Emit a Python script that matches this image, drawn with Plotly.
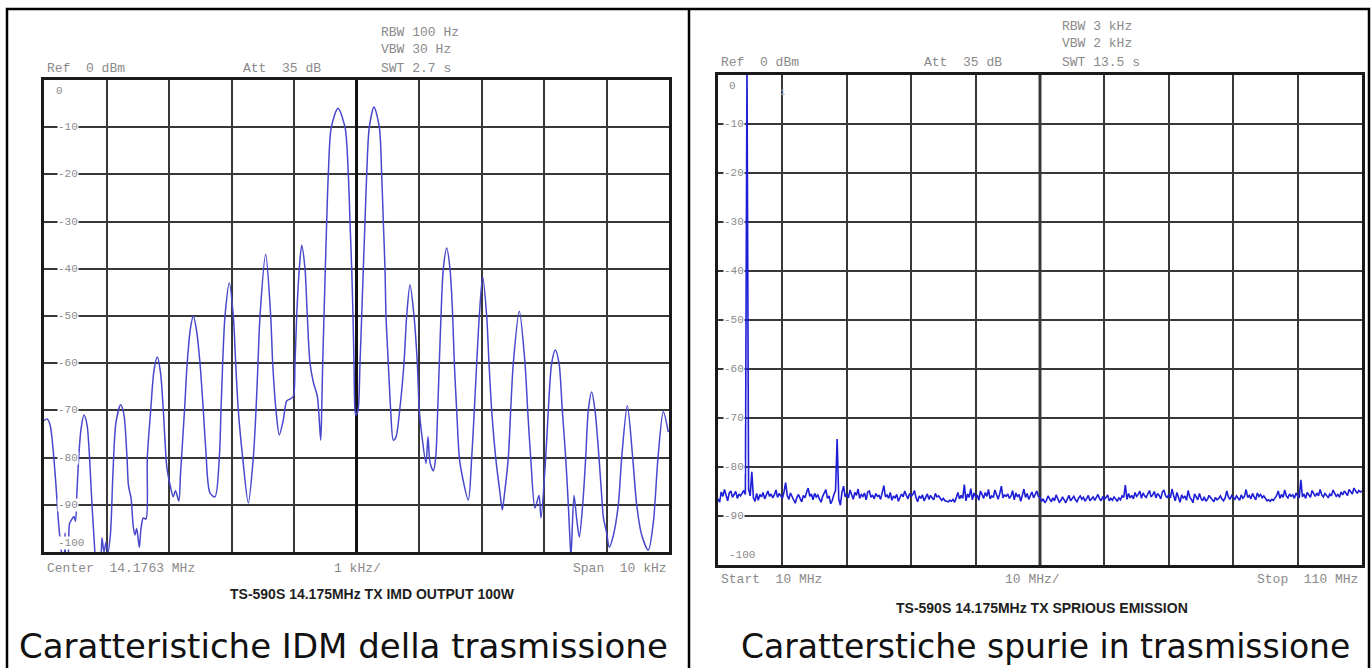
import numpy as np
import plotly.graph_objects as go

W, H = 1372, 668

# ---------------- data: left panel (two-tone IMD, offset from centre in kHz, level dBm)
imd_khz = [-5.0, -4.952, -4.904, -4.856, -4.808, -4.76, -4.712, -4.68, -4.664, -4.648,
           -4.616, -4.592, -4.552, -4.52, -4.496, -4.472, -4.44, -4.408, -4.36, -4.312,
           -4.28, -4.24, -4.2, -4.168, -4.104, -4.072, -4.04, -4.008, -3.976, -3.936,
           -3.896, -3.848, -3.773, -3.72, -3.672, -3.648, -3.608, -3.571, -3.544, -3.517,
           -3.475, -3.448, -3.411, -3.368, -3.347, -3.293, -3.24, -3.187, -3.136, -3.091,
           -3.048, -3.029, -2.976, -2.933, -2.896, -2.843, -2.816, -2.752, -2.709, -2.656,
           -2.611, -2.56, -2.504, -2.451, -2.413, -2.344, -2.264, -2.195, -2.168, -2.141,
           -2.104, -2.035, -1.971, -1.933, -1.891, -1.821, -1.731, -1.651, -1.608, -1.576,
           -1.544, -1.453, -1.373, -1.341, -1.288, -1.235, -1.171, -1.117, -1.064, -1.011,
           -0.984, -0.957, -0.915, -0.877, -0.824, -0.787, -0.744, -0.691, -0.627, -0.573,
           -0.557, -0.541, -0.52, -0.499, -0.477, -0.451, -0.403, -0.296, -0.184, -0.131,
           -0.104, -0.077, -0.056, -0.04, -0.024, -0.008, 0.024, 0.056, 0.083, 0.109,
           0.136, 0.163, 0.205, 0.28, 0.365, 0.403, 0.429, 0.456, 0.472, 0.509,
           0.547, 0.589, 0.632, 0.696, 0.76, 0.803, 0.856, 0.92, 0.973, 1.005,
           1.043, 1.112, 1.144, 1.176, 1.229, 1.267, 1.299, 1.325, 1.352, 1.389,
           1.443, 1.496, 1.539, 1.565, 1.603, 1.645, 1.683, 1.789, 1.843, 1.885,
           1.923, 1.965, 2.019, 2.083, 2.12, 2.163, 2.227, 2.296, 2.333, 2.365,
           2.429, 2.467, 2.509, 2.605, 2.696, 2.739, 2.787, 2.856, 2.92, 2.952,
           3.027, 3.069, 3.123, 3.181, 3.24, 3.293, 3.347, 3.389, 3.416, 3.432,
           3.48, 3.523, 3.565, 3.619, 3.667, 3.709, 3.763, 3.816, 3.88, 3.933,
           3.949, 4.003, 4.045, 4.109, 4.189, 4.243, 4.333, 4.419, 4.483, 4.563,
           4.669, 4.749, 4.824, 4.909, 4.989]
imd_db = [-72.2, -71.8, -73, -78, -86, -95, -101, -104, -96, -101,
          -100.5, -94, -93, -92.5, -93.5, -87, -79, -74, -71, -73,
          -78, -88, -97, -102, -104, -97, -100, -98, -100, -96,
          -83, -72.5, -68.8, -71, -80, -86, -88.5, -94.7, -96.4, -95,
          -99, -95, -92.8, -93, -80, -70, -61.5, -58.7, -62, -70,
          -80, -82.6, -86.2, -88.3, -87, -89.2, -83.5, -70, -60, -52.5,
          -50, -53, -60, -70, -78, -87.5, -88.3, -80, -70, -60,
          -50, -43, -50, -60, -70, -80, -89.6, -80, -70, -60,
          -50, -36.9, -50, -60, -70, -75.2, -72, -68, -67.6, -67,
          -60, -50, -40, -35, -40, -50, -60, -64, -67, -76.3,
          -70, -60, -50, -40, -30, -20, -10, -6, -10, -20,
          -30, -40, -50, -60, -70, -71, -70, -60, -50, -40,
          -30, -20, -10, -5.7, -10, -20, -30, -40, -50, -60,
          -70, -76.3, -75.6, -69.3, -60, -50, -43.4, -50, -60, -70,
          -75, -81.2, -75.6, -81, -82.8, -80, -70, -60, -50, -40,
          -35.6, -40, -50, -60, -70, -80, -83.3, -89, -80, -70,
          -60, -50, -41.7, -50, -60, -70, -80, -87.5, -91.1, -88,
          -80, -70, -60, -49, -60, -70, -80, -90.7, -88, -92.8,
          -80, -70, -60, -57.2, -60, -70, -80, -90, -97.5, -101,
          -88, -93, -96.8, -90, -80, -70, -66.1, -70, -80, -90,
          -92.6, -96, -99, -96.5, -90, -80, -69, -80, -90, -96.4,
          -99.6, -93.8, -80, -70.3, -74.6]

# ---------------- data: right panel (spurious sweep 10..110 MHz, level dBm)
spur_start_mhz = 10
spur_stop_mhz = 110
spur_db = [
    -86.5, -87.2, -85.1, -86.0, -84.6, -85.8, -86.9, -85.3, -84.9, -86.2, -85.7, -85.0, -86.4, -85.5, -85.9, -85.2, -84.8, -85.6, 2.0, -84.5,
    -85.9, -81.0, -86.3, -87.0, -85.4, -86.8, -85.6, -86.1, -85.2, -86.5, -85.8, -84.9, -86.0, -85.5, -86.3, -85.7, -84.7, -86.2, -85.4, -85.9,
    -86.4, -85.1, -83.2, -85.8, -86.6, -85.3, -86.0, -86.9, -87.4, -86.2, -85.6, -86.4, -87.1, -85.8, -86.3, -85.2, -84.3, -86.0, -85.5, -86.7,
    -85.4, -86.1, -85.7, -86.5, -87.2, -86.0, -85.3, -84.6, -86.4, -85.9, -87.5, -86.8, -85.6, -84.8, -74.3, -86.5, -87.8, -85.2, -83.9, -86.1,
    -85.5, -86.3, -84.7, -85.9, -86.6, -85.2, -85.8, -84.5, -86.4, -85.6, -86.0, -85.3, -86.7, -85.1, -84.9, -86.2, -85.7, -86.5, -85.4, -86.0,
    -85.8, -86.6, -85.3, -83.8, -86.1, -85.7, -86.4, -85.2, -86.8, -85.9, -86.3, -85.6, -87.0, -86.2, -85.5, -86.1, -84.9, -85.8, -86.5, -85.4,
    -86.0, -85.6, -84.8, -86.3, -87.1, -85.9, -86.4, -85.7, -86.9, -86.2, -85.5, -86.6, -85.8, -86.3, -86.7, -85.4, -86.1, -85.9, -86.5, -86.8,
    -86.4, -86.9, -87.0, -87.1, -86.8, -87.0, -86.6, -87.2, -86.3, -85.2, -86.5, -85.8, -86.4, -83.6, -86.9, -85.5, -86.2, -84.4, -86.7, -85.3,
    -86.1, -85.7, -86.8, -84.9, -85.6, -86.4, -85.2, -86.0, -84.6, -86.5, -85.9, -86.2, -84.7, -85.8, -86.6, -85.4, -83.9, -86.3, -85.7, -86.0,
    -85.5, -86.4, -85.9, -84.8, -86.7, -85.3, -86.1, -85.6, -87.0, -85.8, -84.5, -86.2, -85.4, -86.6, -85.9, -85.1, -86.3, -85.7, -84.9, -86.0,
    -86.2, -87.0, -86.5, -87.3, -86.8, -85.9, -86.6, -87.1, -86.3, -86.9, -85.7, -86.4, -87.2, -86.8, -86.1, -86.7, -87.3, -86.5, -85.8, -86.9,
    -86.4, -86.0, -86.7, -87.1, -86.3, -85.9, -86.6, -86.2, -87.0, -86.5, -85.8, -86.9, -86.4, -86.1, -86.8, -86.3, -85.6, -86.5, -86.9, -86.0,
    -86.6, -86.2, -85.7, -86.9, -86.4, -86.8, -86.1, -86.5, -87.0, -86.3, -86.7, -85.9, -86.2, -83.7, -86.6, -85.4, -86.3, -85.8, -86.5, -85.2,
    -86.0, -85.6, -84.9, -86.4, -85.3, -85.9, -86.2, -85.5, -84.8, -86.1, -85.7, -85.0, -86.3, -85.4, -85.8, -86.5, -85.1, -84.7, -85.9, -86.2,
    -85.6, -86.3, -84.5, -85.8, -86.9, -85.2, -86.5, -87.2, -85.7, -86.4, -85.9, -86.8, -84.8, -86.1, -86.6, -87.3, -85.5, -86.2, -86.7, -85.4,
    -86.4, -86.9, -86.1, -87.0, -86.6, -85.8, -86.3, -86.8, -87.1, -86.2, -86.7, -86.4, -85.9, -86.5, -86.9, -86.3, -84.9, -86.1, -86.6, -85.8,
    -86.2, -86.6, -85.9, -86.3, -86.8, -85.7, -86.4, -86.0, -84.6, -86.2, -85.8, -86.5, -85.4, -86.1, -86.7, -85.3, -86.0, -85.6, -86.3, -85.9,
    -86.5, -86.9, -86.7, -87.0, -86.6, -86.8, -86.3, -85.8, -84.9, -86.4, -85.6, -86.2, -84.7, -85.9, -86.3, -85.5, -86.0, -85.7, -86.4, -85.3,
    -85.9, -86.3, -82.6, -86.1, -85.5, -86.4, -85.2, -85.8, -86.2, -84.8, -85.6, -86.0, -85.3, -85.9, -84.6, -85.7, -86.1, -85.4, -85.8, -86.3,
    -85.5, -85.9, -84.7, -85.3, -86.0, -85.6, -86.2, -85.1, -85.7, -84.9, -85.4, -85.8, -84.6, -85.2, -85.5, -84.3, -85.0, -85.4, -84.8, -85.1,
    -84.9]
spur_mhz = np.linspace(spur_start_mhz, spur_stop_mhz, len(spur_db))

level_ticks = [0, -10, -20, -30, -40, -50, -60, -70, -80, -90, -100]
level_labels = ["0", "-10", "-20", "-30", "-40", "-50", "-60", "-70", "-80", "-90", "-100"]


def px(x):
    return x / W


def py(y):
    return 1 - y / H


fig = go.Figure()
fig.add_trace(go.Scatter(
    x=imd_khz, y=imd_db, mode="lines", xaxis="x", yaxis="y",
    line=dict(color="rgb(72,72,205)", width=1.5, shape="spline", smoothing=0.8),
    showlegend=False, hoverinfo="skip"))
fig.add_trace(go.Scatter(
    x=spur_mhz, y=spur_db, mode="lines", xaxis="x2", yaxis="y2",
    line=dict(color="rgb(30,30,215)", width=1.6),
    showlegend=False, hoverinfo="skip"))

ax = dict(showline=True, mirror=True, linecolor="#1a1a1a", linewidth=3,
          showgrid=True, gridcolor="#383838", gridwidth=1.8,
          showticklabels=False, ticks="", fixedrange=True, zeroline=False)

fig.update_layout(
    width=W, height=H,
    margin=dict(l=0, r=0, t=0, b=0),
    paper_bgcolor="white", plot_bgcolor="white",
    xaxis=dict(ax, domain=[px(44), px(669)], range=[-5, 5], dtick=1, tick0=0,
               zeroline=True, zerolinecolor="#111111", zerolinewidth=2.8),
    yaxis=dict(ax, domain=[py(552), py(80)], range=[-100, 0], dtick=10, tick0=0),
    xaxis2=dict(ax, domain=[px(718), px(1362)], range=[spur_start_mhz, spur_stop_mhz],
                dtick=10, tick0=0, anchor="y2"),
    yaxis2=dict(ax, domain=[py(565), py(75)], range=[-100, 0], dtick=10, tick0=0,
                anchor="x2"),
)

shapes = [
    # centre graticule line of right screen
    dict(type="line", xref="x2", yref="y2 domain", x0=60, x1=60, y0=0, y1=1,
         line=dict(color="#111111", width=2.8), layer="below"),
    # outer frame and divider
    dict(type="rect", xref="paper", yref="paper", x0=px(7), x1=px(1369),
         y0=-0.02, y1=py(9), line=dict(color="black", width=2.5)),
    dict(type="line", xref="paper", yref="paper", x0=px(689), x1=px(689),
         y0=-0.02, y1=py(9), line=dict(color="black", width=2.5)),
]
fig.update_layout(shapes=shapes)

mono = dict(family="Liberation Mono, Courier New, monospace", size=13, color="#8a8a8a")
ann = []


def text(x, y, s, xanchor="left", font=mono, **kw):
    ann.append(dict(x=px(x), y=py(y), xref="paper", yref="paper", text=s,
                    showarrow=False, xanchor=xanchor, yanchor="middle", font=font, **kw))


# header texts left
text(379, 32, "RBW 100 Hz")
text(379, 50, "VBW 30 Hz")
text(379, 68, "SWT 2.7 s")
text(45, 68, "Ref  0 dBm")
text(241, 68, "Att  35 dB")
# header texts right
text(1060, 26, "RBW 3 kHz")
text(1060, 44, "VBW 2 kHz")
text(1060, 62, "SWT 13.5 s")
text(719, 62, "Ref  0 dBm")
text(922, 62, "Att  35 dB")
# footer texts
text(45, 568, "Center  14.1763 MHz")
text(357, 568, "1 kHz/", xanchor="center")
text(669, 568, "Span  10 kHz", xanchor="right")
text(719, 579, "Start  10 MHz")
text(1032, 579, "10 MHz/", xanchor="center")
text(1360, 579, "Stop  110 MHz", xanchor="right")

title_font = dict(family="Liberation Sans, Arial, sans-serif", size=14, color="#1e1e1e",
                  weight="bold")
text(372, 594, "TS-590S 14.175MHz TX IMD OUTPUT 100W", xanchor="center", font=title_font)
text(1042, 608, "TS-590S 14.175MHz TX SPRIOUS EMISSION", xanchor="center", font=title_font)

text(343, 646, "Caratteristiche IDM della trasmissione", xanchor="center",
     font=dict(family="DejaVu Sans, Verdana, sans-serif", size=34, color="#111111"))
text(1045, 646, "Caratterstiche spurie in trasmissione", xanchor="center",
     font=dict(family="DejaVu Sans, Verdana, sans-serif", size=33, color="#111111"))

# level labels inside the screens
lab_font = dict(family="Liberation Mono, Courier New, monospace", size=11, color="#8a8a8a")
for v, s in zip(level_ticks, level_labels):
    yv = v
    if v == 0:
        yv = -2.3
    elif v == -100:
        yv = -98
    ann.append(dict(x=0.021 if v != 0 else 0.018, y=yv, xref="x domain", yref="y", text=s,
                    showarrow=False, xanchor="left", yanchor="middle", font=lab_font,
                    bgcolor="white", borderpad=0))
    ann.append(dict(x=0.008 if v not in (0, -100) else 0.016, y=yv, xref="x2 domain", yref="y2",
                    text=s, showarrow=False, xanchor="left", yanchor="middle", font=lab_font,
                    bgcolor="white", borderpad=0))

# marker number on right screen
ann.append(dict(x=px(782), y=py(86), xref="paper", yref="paper", text="1", showarrow=False,
                font=dict(family="Liberation Mono, monospace", size=9, color="#b5b5b5")))

fig.update_layout(annotations=ann)
fig.write_html("out.html")
